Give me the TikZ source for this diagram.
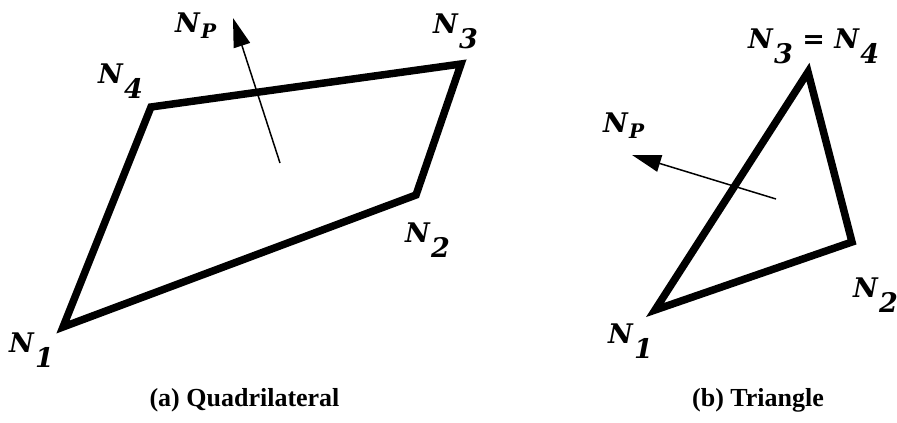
\documentclass[tikz,border=0pt]{standalone}
\usepackage{fontspec}
\setmainfont{Liberation Serif}
\newfontfamily\labfont{DejaVu Serif}
\usetikzlibrary{arrows.meta}
\newcommand\nsub[1]{\textit{N}\kern0.5pt\raisebox{-15pt}{\textit{#1}}}
\newcommand\nsubp{\textit{N}\kern0.5pt\raisebox{-6pt}{\fontsize{20}{20}\selectfont\textit{P}}}
\begin{document}
\begin{tikzpicture}[x=1pt,y=-1pt,
  edge/.style={line width=7.5pt,line join=miter},
  normal/.style={line width=1.5pt,-{Triangle[length=29pt,width=17pt]}},
  lab/.style={inner sep=0pt,anchor=base west,font=\fontsize{27}{30}\selectfont\labfont\bfseries},
  captext/.style={inner sep=0pt,anchor=base,font=\fontsize{26}{30}\selectfont\bfseries}]
\useasboundingbox (0,0) rectangle (897,423);
% Quadrilateral
\coordinate (a1) at (63,327);
\coordinate (a2) at (416,195);
\coordinate (a3) at (461,64);
\coordinate (a4) at (151,107);
\draw[edge] (a1) -- (a2) -- (a3) -- (a4) -- cycle;
\coordinate (ac) at (280,163);
\coordinate (at) at (233,18);
\draw[normal] (ac) -- (at);
\node[lab] (la1) at (9,352) {\nsub{1}};
\node[lab] (la2) at (405,242) {\nsub{2}};
\node[lab] (la3) at (433,33) {\nsub{3}};
\node[lab] (la4) at (98,83) {\nsub{4}};
\node[lab] (lap) at (175,32) {\nsubp};
\node[captext] (ca) at (244.5,406) {(a) Quadrilateral};
% Triangle
\coordinate (b1) at (655,310);
\coordinate (b2) at (852,242);
\coordinate (b3) at (808,72);
\draw[edge] (b1) -- (b2) -- (b3) -- cycle;
\coordinate (bc) at (776,199);
\coordinate (bt) at (632,155);
\draw[normal] (bc) -- (bt);
\node[lab] (lb1) at (608,343) {\nsub{1}};
\node[lab] (lb2) at (853,297) {\nsub{2}};
\node[lab] (lb3) at (748,48) {\nsub{3} = \nsub{4}};
\node[lab] (lbp) at (603,132) {\nsubp};
\node[captext] (cb) at (758,406) {(b) Triangle};
\end{tikzpicture}
\end{document}
